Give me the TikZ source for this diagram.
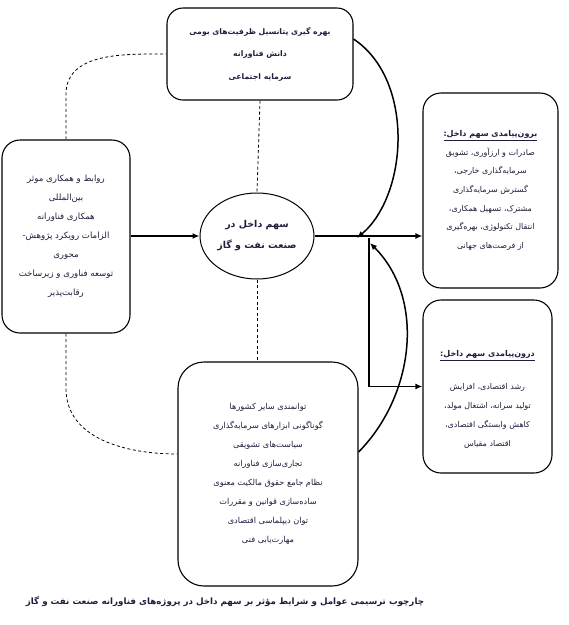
\documentclass[tikz,border=0pt]{standalone}
\usepackage{fontspec}
\usetikzlibrary{arrows.meta,shapes.geometric}
\TeXXeTstate=1
\newfontfamily\arabicfont[Script=Arabic]{DejaVu Sans}
\newcommand{\faline}[1]{\beginR #1\endR}
\definecolor{ink}{RGB}{30,30,60}
\begin{document}
\begin{tikzpicture}[x=1pt, y=-1pt,
  font=\arabicfont\fontsize{8.2}{19}\selectfont,
  box/.style={draw, line width=1.1pt, rounded corners=16pt, align=center, inner sep=0pt, text=ink},
  flow/.style={line width=1.5pt, -{Latex[length=7pt,width=6pt]}},
  link/.style={line width=0.8pt, dash pattern=on 3pt off 2.5pt}]
\useasboundingbox (0,0) rectangle (569,625);
% factors around the core
\node[box, minimum width=186pt, minimum height=92pt, font=\arabicfont\bfseries\fontsize{7.7}{22.5}\selectfont] (topbox) at (260,54)
  {\faline{بهره گیری پتانسیل ظرفیت‌های بومی}\\ \faline{دانش فناورانه}\\ \faline{سرمایه اجتماعی}};
\node[box, minimum width=128pt, minimum height=193pt, rounded corners=18pt, font=\arabicfont\fontsize{8.6}{19}\selectfont] (leftbox) at (66,236.5)
  {\faline{روابط و همکاری موثر}\\ \faline{بین‌المللی}\\ \faline{همکاری فناورانه}\\ \faline{الزامات رویکرد پژوهش-}\\ \faline{محوری}\\ \faline{توسعه فناوری و زیرساخت}\\ \faline{رقابت‌پذیر}};
\node[draw, ellipse, line width=1pt, minimum width=114pt, minimum height=86pt, align=center, inner sep=0pt, text=ink, font=\arabicfont\bfseries\fontsize{9.5}{21}\selectfont] (core) at (257,236)
  {\faline{سهم داخل در}\\ \faline{صنعت نفت و گاز}};
\node[box, minimum width=180pt, minimum height=224pt, rounded corners=26pt] (factbox) at (268,474)
  {\faline{توانمندی سایر کشورها}\\ \faline{گوناگونی ابزارهای سرمایه‌گذاری}\\ \faline{سیاست‌های تشویقی}\\ \faline{تجاری‌سازی فناورانه}\\ \faline{نظام جامع حقوق مالکیت معنوی}\\ \faline{ساده‌سازی قوانین و مقررات}\\ \faline{توان دیپلماسی اقتصادی}\\ \faline{مهارت‌یابی فنی}};
% outcomes
\node[box, minimum width=135pt, minimum height=195pt, rounded corners=18pt, font=\arabicfont\fontsize{8}{18.7}\selectfont] (outbox) at (490.5,190.5)
  {\underline{\faline{\bfseries برون‌پیامدی سهم داخل:}}\\ \faline{صادرات و ارزآوری، تشویق}\\ \faline{سرمایه‌گذاری خارجی،}\\ \faline{گسترش سرمایه‌گذاری}\\ \faline{مشترک، تسهیل همکاری،}\\ \faline{انتقال تکنولوژی، بهره‌گیری}\\ \faline{از فرصت‌های جهانی}};
\node[box, minimum width=129pt, minimum height=173pt, rounded corners=18pt, font=\arabicfont\fontsize{8}{19}\selectfont] (inbox) at (487.5,386.5)
  {\rule{0pt}{32pt}\underline{\faline{\bfseries درون‌پیامدی سهم داخل:}}\\[14pt] \faline{رشد اقتصادی، افزایش}\\ \faline{تولید سرانه، اشتغال مولد،}\\ \faline{کاهش وابستگی اقتصادی،}\\ \faline{اقتصاد مقیاس}};
\node[text=ink, font=\arabicfont\bfseries\fontsize{8.7}{10}\selectfont] (caption) at (225,602)
  {\faline{چارچوب ترسیمی عوامل و شرایط مؤثر بر سهم داخل در پروژه‌های فناورانه صنعت نفت و گاز}};
% junctions on the outcome line
\coordinate (tj) at (357,238);
\coordinate (branch) at (369,238);
\coordinate (bj) at (370,243);
% arrows
\draw[flow] (leftbox.east |- core.west) -- (core.west);
\draw[flow] (core.east) -- (core.east -| outbox.west);
\draw[flow] (branch) |- (inbox.west);
\draw[flow] ([yshift=15pt]topbox.east) .. controls (415,80) and (408,195) .. (tj);
\draw[flow] ([yshift=22pt]factbox.east) .. controls (414,396) and (426,299) .. (bj);
% dashed links
\draw[link] (topbox.south) -- (core.north);
\draw[link] (core.south) -- (core.south |- factbox.north);
\draw[link] (leftbox.north) -- ++(0,-45) to[out=90, in=180] (topbox.west);
\draw[link] (leftbox.south) -- ++(0,55) to[out=-90, in=180] ([yshift=20pt]factbox.west);
\end{tikzpicture}
\end{document}
